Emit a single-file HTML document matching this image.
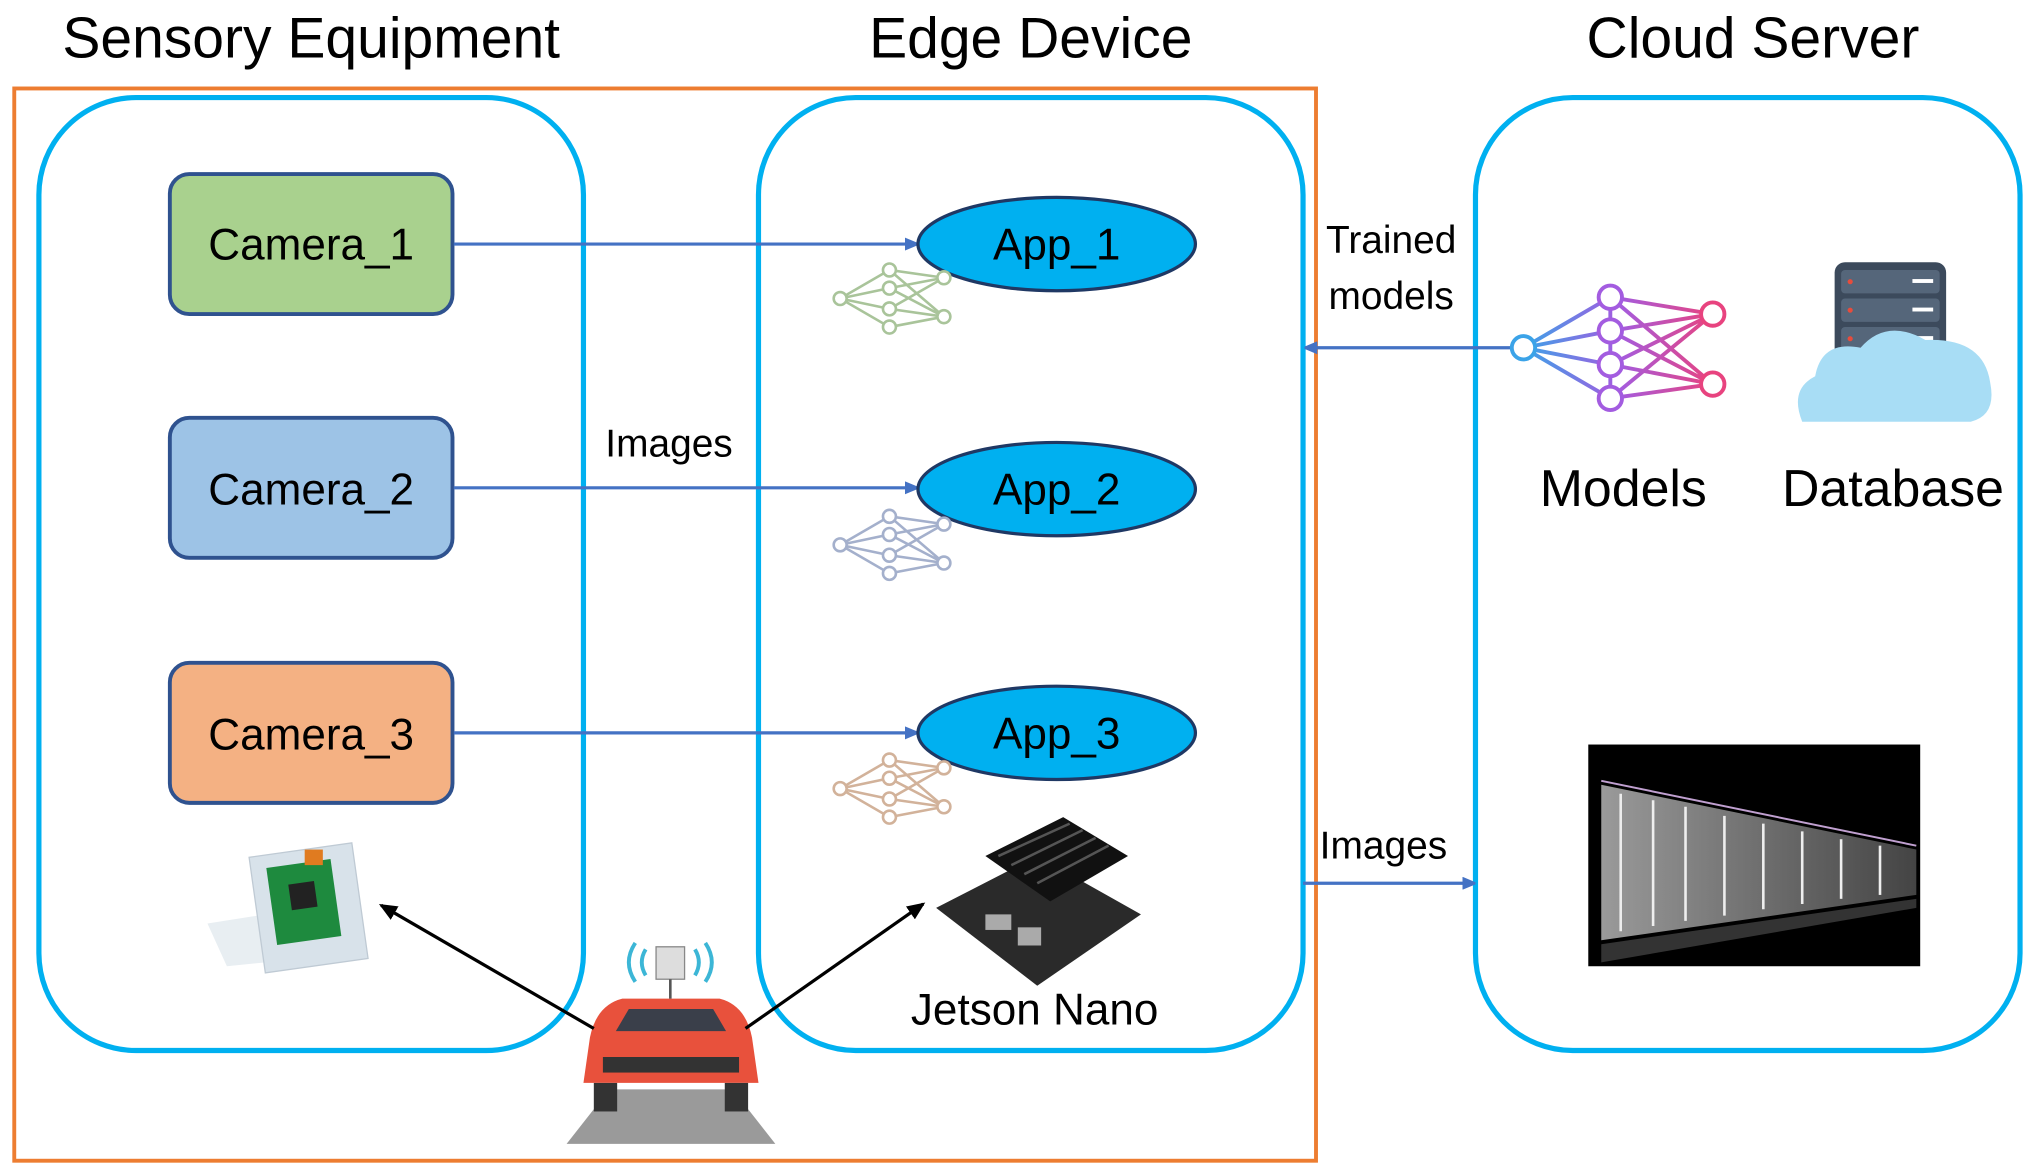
<!DOCTYPE html>
<html><head><meta charset="utf-8"><style>html,body{margin:0;padding:0;background:#fff}svg{display:block}text{font-family:"Liberation Sans","DejaVu Sans",sans-serif}</style></head>
<body>
<svg width="2033" height="1174" viewBox="0 0 1568 905" xmlns="http://www.w3.org/2000/svg">
<defs>
<marker id="ab" markerWidth="10" markerHeight="10" refX="9" refY="5" orient="auto" markerUnits="userSpaceOnUse"><path d="M0,0 L12,5 L0,10 Z" fill="#4472C4"/></marker>
<marker id="ak" markerWidth="14" markerHeight="12" refX="12" refY="6" orient="auto" markerUnits="userSpaceOnUse"><path d="M0,0 L14,6 L0,12 Z" fill="#000"/></marker>
<linearGradient id="g1" x1="0" x2="1"><stop offset="0" stop-color="#3BA3E8"/><stop offset="0.5" stop-color="#A35CE0"/><stop offset="1" stop-color="#E8437F"/></linearGradient>
<linearGradient id="dc" x1="0" x2="1"><stop offset="0" stop-color="#9a9a9a"/><stop offset="1" stop-color="#444"/></linearGradient>
</defs>
<g font-size="44" text-anchor="middle" fill="#000">
<text x="240" y="44">Sensory Equipment</text>
<text x="795" y="44">Edge Device</text>
<text x="1352" y="44">Cloud Server</text>
</g>
<rect x="11" y="68" width="1004" height="827" fill="none" stroke="#ED7D31" stroke-width="3"/>
<g fill="none" stroke="#00B0F0" stroke-width="4">
<rect x="30" y="75" width="420" height="735" rx="75"/>
<rect x="585" y="75" width="420" height="735" rx="75"/>
<rect x="1138" y="75" width="420" height="735" rx="75"/>
</g>
<g stroke="#2F528F" stroke-width="3">
<rect x="131" y="134" width="218" height="108" rx="15" fill="#A9D18E"/>
<rect x="131" y="322" width="218" height="108" rx="15" fill="#9DC3E6"/>
<rect x="131" y="511" width="218" height="108" rx="15" fill="#F4B183"/>
</g>
<g font-size="34" text-anchor="middle">
<text x="240" y="200">Camera_1</text>
<text x="240" y="389">Camera_2</text>
<text x="240" y="578">Camera_3</text>
</g>
<g stroke="#4472C4" stroke-width="2.5" marker-end="url(#ab)">
<line x1="350" y1="188" x2="707" y2="188"/>
<line x1="350" y1="376" x2="707" y2="376"/>
<line x1="350" y1="565" x2="707" y2="565"/>
<line x1="1170" y1="268" x2="1007" y2="268"/>
<line x1="1005" y1="681" x2="1137" y2="681"/>
</g>
<g fill="#00B0F0" stroke="#1F3864" stroke-width="2.5">
<ellipse cx="815" cy="188" rx="107" ry="36"/>
<ellipse cx="815" cy="377" rx="107" ry="36"/>
<ellipse cx="815" cy="565" rx="107" ry="36"/>
</g>
<g font-size="34" text-anchor="middle">
<text x="815" y="200">App_1</text>
<text x="815" y="389">App_2</text>
<text x="815" y="577">App_3</text>
<text x="798" y="790">Jetson Nano</text>
</g>
<g font-size="30" text-anchor="middle">
<text x="516" y="352">Images</text>
<text x="1073" y="195">Trained</text>
<text x="1073" y="238">models</text>
<text x="1067" y="662">Images</text>
</g>
<g font-size="40" text-anchor="middle">
<text x="1252" y="390">Models</text>
<text x="1460" y="390">Database</text>
</g>
<g fill="#fff" stroke-width="2">
<g stroke="#A9C49A"><path d="M648,230 L686,208 L728,214 M648,230 L686,222 L728,244 M648,230 L686,238 M648,230 L686,252 M686,208 L728,244 M686,222 L728,214 M686,238 L728,214 M686,238 L728,244 M686,252 L728,244" fill="none"/><circle cx="648" cy="230" r="5"/><circle cx="686" cy="208" r="5"/><circle cx="686" cy="222" r="5"/><circle cx="686" cy="238" r="5"/><circle cx="686" cy="252" r="5"/><circle cx="728" cy="214" r="5"/><circle cx="728" cy="244" r="5"/></g>
<g stroke="#A4B0CC" transform="translate(0,190)"><path d="M648,230 L686,208 L728,214 M648,230 L686,222 L728,244 M648,230 L686,238 M648,230 L686,252 M686,208 L728,244 M686,222 L728,214 M686,238 L728,214 M686,238 L728,244 M686,252 L728,244" fill="none"/><circle cx="648" cy="230" r="5"/><circle cx="686" cy="208" r="5"/><circle cx="686" cy="222" r="5"/><circle cx="686" cy="238" r="5"/><circle cx="686" cy="252" r="5"/><circle cx="728" cy="214" r="5"/><circle cx="728" cy="244" r="5"/></g>
<g stroke="#D2B29A" transform="translate(0,378)"><path d="M648,230 L686,208 L728,214 M648,230 L686,222 L728,244 M648,230 L686,238 M648,230 L686,252 M686,208 L728,244 M686,222 L728,214 M686,238 L728,214 M686,238 L728,244 M686,252 L728,244" fill="none"/><circle cx="648" cy="230" r="5"/><circle cx="686" cy="208" r="5"/><circle cx="686" cy="222" r="5"/><circle cx="686" cy="238" r="5"/><circle cx="686" cy="252" r="5"/><circle cx="728" cy="214" r="5"/><circle cx="728" cy="244" r="5"/></g>
</g>
<g stroke="url(#g1)" stroke-width="3" fill="none">
<path d="M1175,268 L1242,229 M1175,268 L1242,255 M1175,268 L1242,281 M1175,268 L1242,307 M1242,229 L1321,242 M1242,255 L1321,242 M1242,281 L1321,242 M1242,307 L1321,242 M1242,229 L1321,296 M1242,255 L1321,296 M1242,281 L1321,296 M1242,307 L1321,296 M1242,229 V307"/>
</g>
<g fill="#fff" stroke-width="3"><circle cx="1175" cy="268" r="9" stroke="#3BA3E8"/><circle cx="1242" cy="229" r="9" stroke="#A35CE0"/><circle cx="1242" cy="255" r="9" stroke="#A35CE0"/><circle cx="1242" cy="281" r="9" stroke="#A35CE0"/><circle cx="1242" cy="307" r="9" stroke="#A35CE0"/><circle cx="1321" cy="242" r="9" stroke="#E8437F"/><circle cx="1321" cy="296" r="9" stroke="#E8437F"/></g>
<rect x="1415" y="202" width="86" height="100" rx="8" fill="#3C4A5C"/>
<g fill="#55667A"><rect x="1420" y="208" width="76" height="18" rx="3"/><rect x="1420" y="230" width="76" height="18" rx="3"/><rect x="1420" y="252" width="76" height="18" rx="3"/></g>
<g fill="#fff"><rect x="1475" y="215" width="16" height="3"/><rect x="1475" y="237" width="16" height="3"/><rect x="1475" y="259" width="16" height="3"/></g>
<g fill="#E74C3C"><circle cx="1427" cy="217" r="2"/><circle cx="1427" cy="239" r="2"/><circle cx="1427" cy="261" r="2"/></g>
<path d="M1390,325 Q1380,300 1400,290 Q1405,262 1435,268 Q1455,245 1485,262 Q1530,260 1535,295 Q1540,320 1520,325 Z" fill="#A8DDF5"/>
<rect x="1225" y="574" width="256" height="171" fill="#000"/>
<path d="M1235,605 L1478,655 L1478,690 L1235,725 Z" fill="url(#dc)"/>
<g stroke="#eee" stroke-width="2"><line x1="1250" y1="612" x2="1250" y2="718"/><line x1="1275" y1="617" x2="1275" y2="714"/><line x1="1300" y1="622" x2="1300" y2="710"/><line x1="1330" y1="629" x2="1330" y2="706"/><line x1="1360" y1="635" x2="1360" y2="701"/><line x1="1390" y1="641" x2="1390" y2="697"/><line x1="1420" y1="647" x2="1420" y2="693"/><line x1="1450" y1="652" x2="1450" y2="690"/></g>
<line x1="1235" y1="602" x2="1478" y2="652" stroke="#C0A0D0" stroke-width="1.5"/>
<path d="M1235,728 L1478,693 L1478,700 L1235,742 Z" fill="#333"/>
<path d="M160,712 L205,705 L225,740 L175,745 Z" fill="#E8EEF2"/>
<rect x="198" y="655" width="80" height="90" fill="#D8E2EA" stroke="#BFCAD4" transform="rotate(-8 238 700)"/>
<rect x="210" y="665" width="50" height="60" fill="#1E8A3E" transform="rotate(-8 238 700)"/>
<rect x="225" y="680" width="20" height="20" fill="#222" transform="rotate(-8 238 700)"/>
<rect x="235" y="655" width="14" height="12" fill="#E07B20"/>
<path d="M722,700 L800,660 L880,705 L800,760 Z" fill="#2A2A2A"/>
<path d="M760,660 L820,630 L870,660 L810,695 Z" fill="#111"/>
<g stroke="#555" stroke-width="2"><line x1="770" y1="660" x2="825" y2="635"/><line x1="780" y1="667" x2="835" y2="640"/><line x1="790" y1="674" x2="845" y2="646"/><line x1="800" y1="681" x2="855" y2="652"/></g>
<rect x="760" y="705" width="20" height="12" fill="#aaa"/><rect x="785" y="715" width="18" height="14" fill="#aaa"/>
<path d="M437,882 L470,840 L565,840 L598,882 Z" fill="#9A9A9A"/>
<path d="M455,800 Q460,775 480,770 L555,770 Q575,775 580,800 L585,835 L450,835 Z" fill="#E8513C"/>
<path d="M475,795 L485,778 L550,778 L560,795 Z" fill="#3A3F4A"/>
<rect x="458" y="835" width="18" height="22" fill="#333"/><rect x="559" y="835" width="18" height="22" fill="#333"/>
<rect x="465" y="815" width="105" height="12" fill="#333"/>
<rect x="506" y="730" width="22" height="25" fill="#ddd" stroke="#888"/>
<line x1="517" y1="755" x2="517" y2="770" stroke="#555" stroke-width="2"/>
<g fill="none" stroke="#3CB6D6" stroke-width="3"><path d="M498,732 Q492,742 498,752"/><path d="M490,727 Q480,742 490,757"/><path d="M536,732 Q542,742 536,752"/><path d="M544,727 Q554,742 544,757"/></g>
<g stroke="#000" stroke-width="2.5" marker-end="url(#ak)">
<line x1="458" y1="793" x2="294" y2="698"/>
<line x1="575" y1="793" x2="712" y2="697"/>
</g>
</svg>
</body></html>
